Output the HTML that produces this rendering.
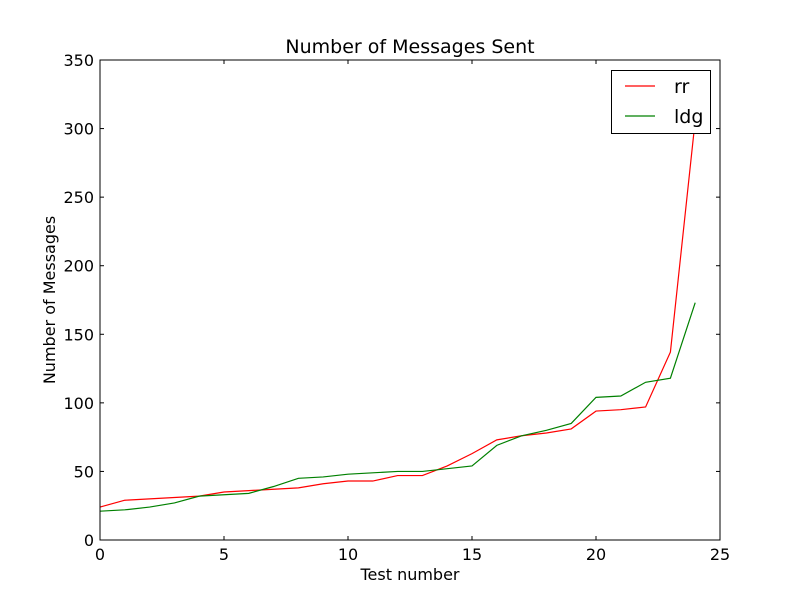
<!DOCTYPE html>
<html><head><meta charset="utf-8"><style>
body{margin:0;background:#fff;}
svg text{font-family:"DejaVu Sans","Liberation Sans",sans-serif;}
</style></head><body>
<svg id="chart" width="800" height="600" xmlns="http://www.w3.org/2000/svg">
<rect width="800" height="600" fill="#fff"/>
<g id="plot"></g>
</svg>
<script>
const testNumbers=[0,1,2,3,4,5,6,7,8,9,10,11,12,13,14,15,16,17,18,19,20,21,22,23,24];
const rrValues=[24,29,30,31,32,35,36,37,38,41,43,43,47,47,54,63,73,76,78,81,94,95,97,137,306];
const ldgValues=[21,22,24,27,32,33,34,39,45,46,48,49,50,50,52,54,69,76,80,85,104,105,115,118,173];
const xTicks=[0,5,10,15,20,25];
const yTicks=[0,50,100,150,200,250,300,350];
const L=100,R=720,T=60,B=540,XMAX=25,YMAX=350;
const sx=v=>L+(R-L)*v/XMAX, sy=v=>B-(B-T)*v/YMAX;
const NS="http://www.w3.org/2000/svg";
const g=document.getElementById('plot');
function mk(t,a){const e=document.createElementNS(NS,t);for(const k in a)e.setAttribute(k,a[k]);g.appendChild(e);return e;}
function series(vals,color,name){
  const p=mk('polyline',{points:vals.map((v,i)=>sx(testNumbers[i])+','+sy(v)).join(' '),fill:'none',stroke:color,'stroke-width':1.2});
  
  
}
series(rrValues,'#ff0000','rr-line');
series(ldgValues,'#008000','ldg-line');
const fr=mk('rect',{x:L,y:T,width:R-L,height:B-T,fill:'none',stroke:'#000','stroke-width':1});

xTicks.forEach(v=>{const x=sx(v);
  mk('line',{x1:x,x2:x,y1:B,y2:B-4,stroke:'#000'});mk('line',{x1:x,x2:x,y1:T,y2:T+4,stroke:'#000'});
  const t=mk('text',{x:x,y:B+20,'text-anchor':'middle','font-size':16});t.textContent=v;
  });
yTicks.forEach(v=>{const y=sy(v);
  mk('line',{x1:L,x2:L+4,y1:y,y2:y,stroke:'#000'});mk('line',{x1:R,x2:R-4,y1:y,y2:y,stroke:'#000'});
  const t=mk('text',{x:L-6,y:y+6,'text-anchor':'end','font-size':16});t.textContent=v;
  });
let t=mk('text',{x:410,y:53,'text-anchor':'middle','font-size':19});t.textContent='Number of Messages Sent';

t=mk('text',{x:410,y:580,'text-anchor':'middle','font-size':16});t.textContent='Test number';

t=mk('text',{x:55,y:300,'text-anchor':'middle','font-size':16,transform:'rotate(-90 55 300)'});t.textContent='Number of Messages';

const lg=mk('rect',{x:611.5,y:70.5,width:99,height:63,fill:'#fff',stroke:'#000'});

[['rr','#ff0000',86],['ldg','#008000',116]].forEach(([n,c,y])=>{
  mk('line',{x1:625,x2:655,y1:y,y2:y,stroke:c,'stroke-width':1.2});
  const e=mk('text',{x:674,y:y+7,'font-size':19});e.textContent=n;
  });
</script>
</body></html>
